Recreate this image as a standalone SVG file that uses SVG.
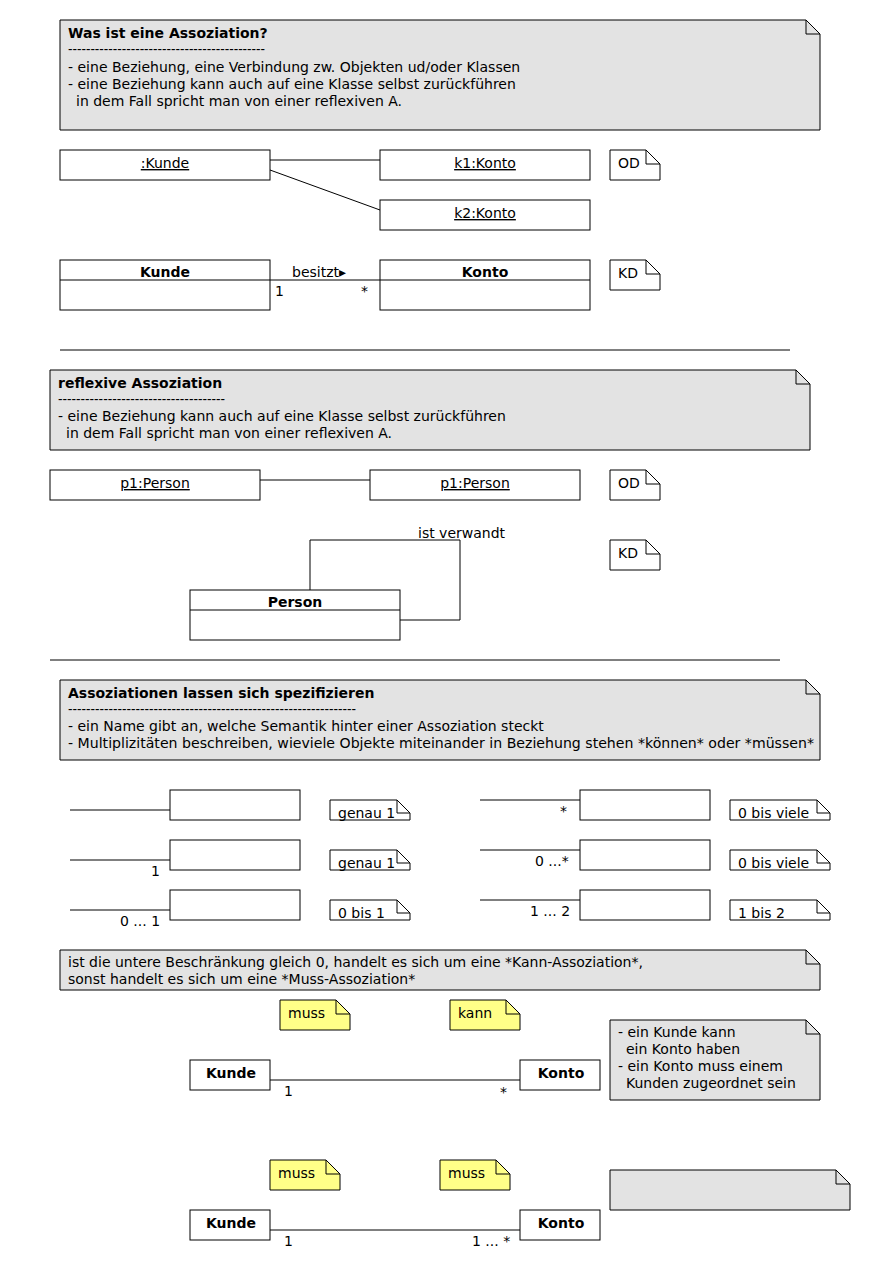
<svg xmlns="http://www.w3.org/2000/svg" width="870" height="1270" viewBox="0 0 870 1270">
<style>
text{font-family:"DejaVu Sans","Liberation Sans",sans-serif;font-size:14px;fill:#000}
.b{font-weight:bold}
.m{text-anchor:middle}
.u{text-decoration:underline}
.box{fill:#fff;stroke:#000;stroke-width:1}
.ln{fill:none;stroke:#000;stroke-width:1}
.ng{fill:#e3e3e3;stroke:#000;stroke-width:1}
.ny{fill:#ffff88;stroke:#000;stroke-width:1}
.nw{fill:#fff;stroke:#000;stroke-width:1}
</style>
<rect width="870" height="1270" fill="#fff"/>

<g id="connectors">
<line class="ln" x1="270" y1="160" x2="380" y2="160"/>
<line class="ln" x1="270" y1="170" x2="380" y2="210"/>
<line class="ln" x1="270" y1="280" x2="380" y2="280"/>
<text x="292" y="277">besitzt▸</text>
<text x="275" y="296">1</text>
<text x="361" y="296">*</text>
<line class="ln" x1="260" y1="480" x2="370" y2="480"/>
<polyline class="ln" points="310,590 310,540 460,540 460,620 400,620"/>
<text x="418" y="538">ist verwandt</text>
<line class="ln" x1="70" y1="810" x2="170" y2="810"/>
<line class="ln" x1="70" y1="860" x2="170" y2="860"/>
<text x="151" y="876">1</text>
<line class="ln" x1="70" y1="910" x2="170" y2="910"/>
<text x="120" y="926">0 ... 1</text>
<line class="ln" x1="480" y1="800" x2="580" y2="800"/>
<text x="560" y="816">*</text>
<line class="ln" x1="480" y1="850" x2="580" y2="850"/>
<text x="535" y="866">0 ...*</text>
<line class="ln" x1="480" y1="900" x2="580" y2="900"/>
<text x="530" y="916">1 ... 2</text>
<line class="ln" x1="270" y1="1080" x2="520" y2="1080"/>
<text x="284" y="1096">1</text>
<text x="500" y="1097">*</text>
<line class="ln" x1="270" y1="1230" x2="520" y2="1230"/>
<text x="284" y="1246">1</text>
<text x="472" y="1246">1 ... *</text>
</g>

<g id="separators">
<line class="ln" x1="60" y1="350" x2="790" y2="350"/>
<line class="ln" x1="50" y1="660" x2="780" y2="660"/>
</g>

<g id="note1">
<path class="ng" d="M60,20 H806 L820,34 V130 H60 Z"/>
<path class="ln" d="M806,20 V34 H820"/>
<text x="68" y="38" class="b">Was ist eine Assoziation?</text>
<text x="68" y="54" textLength="197" lengthAdjust="spacingAndGlyphs">--------------------------------------------</text>
<text x="68" y="72">- eine Beziehung, eine Verbindung zw. Objekten ud/oder Klassen</text>
<text x="68" y="89">- eine Beziehung kann auch auf eine Klasse selbst zurückführen</text>
<text x="76" y="106">in dem Fall spricht man von einer reflexiven A.</text>
</g>

<g id="obj-kunde"><rect class="box" x="60" y="150" width="210" height="30"/><text x="165" y="168" class="m u">:Kunde</text></g>
<g id="obj-k1"><rect class="box" x="380" y="150" width="210" height="30"/><text x="485" y="168" class="m u">k1:Konto</text></g>
<g id="obj-k2"><rect class="box" x="380" y="200" width="210" height="30"/><text x="485" y="218" class="m u">k2:Konto</text></g>
<g id="note-od1"><path class="nw" d="M610,150 H646 L660,164 V180 H610 Z"/><path class="ln" d="M646,150 V164 H660"/><text x="618" y="168">OD</text></g>

<g id="cls-kunde"><rect class="box" x="60" y="260" width="210" height="50"/><line class="ln" x1="60" y1="280" x2="270" y2="280"/><text x="165" y="277" class="m b">Kunde</text></g>
<g id="cls-konto"><rect class="box" x="380" y="260" width="210" height="50"/><line class="ln" x1="380" y1="280" x2="590" y2="280"/><text x="485" y="277" class="m b">Konto</text></g>
<g id="note-kd1"><path class="nw" d="M610,260 H646 L660,274 V290 H610 Z"/><path class="ln" d="M646,260 V274 H660"/><text x="618" y="278">KD</text></g>

<g id="note2">
<path class="ng" d="M50,370 H796 L810,384 V450 H50 Z"/>
<path class="ln" d="M796,370 V384 H810"/>
<text x="58" y="388" class="b">reflexive Assoziation</text>
<text x="58" y="404" textLength="167" lengthAdjust="spacingAndGlyphs">-------------------------------------</text>
<text x="58" y="421">- eine Beziehung kann auch auf eine Klasse selbst zurückführen</text>
<text x="66" y="438">in dem Fall spricht man von einer reflexiven A.</text>
</g>

<g id="obj-p1a"><rect class="box" x="50" y="470" width="210" height="30"/><text x="155" y="488" class="m u">p1:Person</text></g>
<g id="obj-p1b"><rect class="box" x="370" y="470" width="210" height="30"/><text x="475" y="488" class="m u">p1:Person</text></g>
<g id="note-od2"><path class="nw" d="M610,470 H646 L660,484 V500 H610 Z"/><path class="ln" d="M646,470 V484 H660"/><text x="618" y="488">OD</text></g>
<g id="note-kd2"><path class="nw" d="M610,540 H646 L660,554 V570 H610 Z"/><path class="ln" d="M646,540 V554 H660"/><text x="618" y="558">KD</text></g>
<g id="cls-person"><rect class="box" x="190" y="590" width="210" height="50"/><line class="ln" x1="190" y1="610" x2="400" y2="610"/><text x="295" y="607" class="m b">Person</text></g>

<g id="note3">
<path class="ng" d="M60,680 H806 L820,694 V760 H60 Z"/>
<path class="ln" d="M806,680 V694 H820"/>
<text x="68" y="698" class="b">Assoziationen lassen sich spezifizieren</text>
<text x="68" y="714" textLength="288" lengthAdjust="spacingAndGlyphs">----------------------------------------------------------------</text>
<text x="68" y="731">- ein Name gibt an, welche Semantik hinter einer Assoziation steckt</text>
<text x="68" y="748" textLength="746" lengthAdjust="spacingAndGlyphs">- Multiplizitäten beschreiben, wieviele Objekte miteinander in Beziehung stehen  *können* oder *müssen*</text>
</g>

<g id="m-box1"><rect class="box" x="170" y="790" width="130" height="30"/></g>
<g id="m-box2"><rect class="box" x="170" y="840" width="130" height="30"/></g>
<g id="m-box3"><rect class="box" x="170" y="890" width="130" height="30"/></g>
<g id="m-box4"><rect class="box" x="580" y="790" width="130" height="30"/></g>
<g id="m-box5"><rect class="box" x="580" y="840" width="130" height="30"/></g>
<g id="m-box6"><rect class="box" x="580" y="890" width="130" height="30"/></g>

<g id="m-note1"><path class="nw" d="M330,800 H397 L410,813 V820 H330 Z"/><path class="ln" d="M397,800 V813 H410"/><text x="338" y="818">genau 1</text></g>
<g id="m-note2"><path class="nw" d="M330,850 H397 L410,863 V870 H330 Z"/><path class="ln" d="M397,850 V863 H410"/><text x="338" y="868">genau 1</text></g>
<g id="m-note3"><path class="nw" d="M330,900 H397 L410,913 V920 H330 Z"/><path class="ln" d="M397,900 V913 H410"/><text x="338" y="918">0 bis 1</text></g>
<g id="m-note4"><path class="nw" d="M730,800 H817 L830,813 V820 H730 Z"/><path class="ln" d="M817,800 V813 H830"/><text x="738" y="818">0 bis viele</text></g>
<g id="m-note5"><path class="nw" d="M730,850 H817 L830,863 V870 H730 Z"/><path class="ln" d="M817,850 V863 H830"/><text x="738" y="868">0 bis viele</text></g>
<g id="m-note6"><path class="nw" d="M730,900 H817 L830,913 V920 H730 Z"/><path class="ln" d="M817,900 V913 H830"/><text x="738" y="918">1 bis 2</text></g>

<g id="note4">
<path class="ng" d="M60,950 H806 L820,964 V990 H60 Z"/>
<path class="ln" d="M806,950 V964 H820"/>
<text x="68" y="967">ist die untere Beschränkung gleich 0, handelt es sich um eine *Kann-Assoziation*,</text>
<text x="68" y="984">sonst handelt es sich um eine *Muss-Assoziation*</text>
</g>

<g id="y-muss1"><path class="ny" d="M280,1000 H336 L350,1014 V1030 H280 Z"/><path class="ln" d="M336,1000 V1014 H350"/><text x="288" y="1018">muss</text></g>
<g id="y-kann"><path class="ny" d="M450,1000 H506 L520,1014 V1030 H450 Z"/><path class="ln" d="M506,1000 V1014 H520"/><text x="458" y="1018">kann</text></g>
<g id="c-kunde1"><rect class="box" x="190" y="1060" width="80" height="30"/><text x="231" y="1078" class="m b">Kunde</text></g>
<g id="c-konto1"><rect class="box" x="520" y="1060" width="80" height="30"/><text x="561" y="1078" class="m b">Konto</text></g>
<g id="note5">
<path class="ng" d="M610,1020 H806 L820,1034 V1100 H610 Z"/>
<path class="ln" d="M806,1020 V1034 H820"/>
<text x="618" y="1037">- ein Kunde kann</text>
<text x="626" y="1054">ein Konto haben</text>
<text x="618" y="1071">- ein Konto muss einem</text>
<text x="626" y="1088">Kunden zugeordnet sein</text>
</g>

<g id="y-muss2"><path class="ny" d="M270,1160 H326 L340,1174 V1190 H270 Z"/><path class="ln" d="M326,1160 V1174 H340"/><text x="278" y="1178">muss</text></g>
<g id="y-muss3"><path class="ny" d="M440,1160 H496 L510,1174 V1190 H440 Z"/><path class="ln" d="M496,1160 V1174 H510"/><text x="448" y="1178">muss</text></g>
<g id="c-kunde2"><rect class="box" x="190" y="1210" width="80" height="30"/><text x="231" y="1228" class="m b">Kunde</text></g>
<g id="c-konto2"><rect class="box" x="520" y="1210" width="80" height="30"/><text x="561" y="1228" class="m b">Konto</text></g>
<g id="note6">
<path class="ng" d="M610,1170 H836 L850,1184 V1210 H610 Z"/>
<path class="ln" d="M836,1170 V1184 H850"/>
</g>
</svg>
